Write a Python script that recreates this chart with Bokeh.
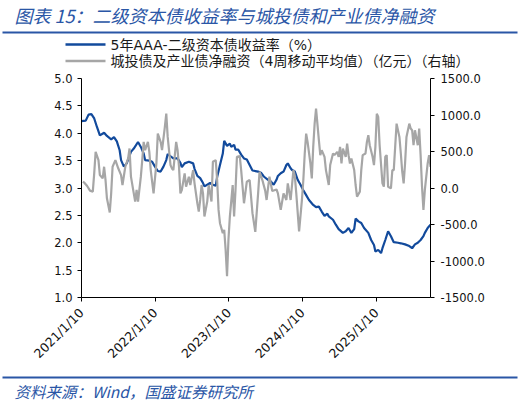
import math
import pandas as pd
from bokeh.plotting import figure
from bokeh.models import (Range1d, LinearAxis, FixedTicker, NumeralTickFormatter,
                          CustomJSTickFormatter, ColumnDataSource)
from bokeh.layouts import column
from bokeh.embed import file_html
from bokeh.resources import INLINE
from bokeh.core.properties import value

# ---------------- data ----------------
start_date = "2021-01-10"

# week number since start_date, and 5Y AAA- tier-2 capital bond yield (%)
yield_weeks = [0, 3, 5, 7, 9, 11, 13, 16, 18, 21, 23, 25, 27, 28, 30, 32, 35, 37, 40, 42,
               44, 45, 48, 50, 52, 54, 56, 58, 60, 61, 63, 65, 68, 70, 71, 73, 76, 79, 80, 82,
               84, 86, 87, 89, 91, 93, 95, 96, 98, 100, 101, 103, 105, 106, 108, 109, 111, 113, 115, 117,
               119, 121, 125, 127, 129, 132, 134, 136, 138, 139, 141, 143, 145, 146, 148, 149, 151, 153, 155, 157,
               159, 161, 164, 166, 168, 170, 172, 174, 175, 178, 180, 182, 185, 187, 189, 191, 193, 194, 196, 198,
               200, 203, 205, 207, 208, 210, 212, 213, 215, 217, 219, 221, 224, 226, 229, 232, 234, 236, 238, 240,
               242, 243, 245, 247]
yield_values = [4.22, 4.23, 4.34, 4.35, 4.27, 4.11, 3.96, 4.01, 3.95, 3.89, 3.93, 3.85, 3.69, 3.51, 3.39, 3.45, 3.66, 3.72, 3.84, 3.75,
                3.63, 3.51, 3.50, 3.48, 3.39, 3.31, 3.30, 3.39, 3.51, 3.62, 3.58, 3.54, 3.54, 3.46, 3.38, 3.45, 3.48, 3.45, 3.35, 3.22,
                3.18, 3.09, 3.03, 3.06, 3.09, 3.06, 3.04, 3.20, 3.42, 3.63, 3.86, 3.77, 3.81, 3.75, 3.79, 3.70, 3.70, 3.61, 3.54, 3.52,
                3.42, 3.32, 3.30, 3.28, 3.21, 3.15, 3.12, 3.06, 3.15, 3.22, 3.27, 3.30, 3.42, 3.45, 3.36, 3.33, 3.30, 3.15, 3.06, 2.96,
                2.87, 2.78, 2.69, 2.65, 2.66, 2.57, 2.49, 2.53, 2.48, 2.42, 2.33, 2.25, 2.18, 2.21, 2.27, 2.18, 2.25, 2.44, 2.39, 2.36,
                2.27, 2.18, 2.05, 1.96, 1.84, 1.87, 1.81, 1.90, 2.05, 2.21, 2.12, 2.01, 2.00, 1.99, 1.97, 1.94, 1.90, 1.97, 2.00, 2.05,
                2.12, 2.18, 2.27, 2.33]

# week number since start_date, and net financing of LGFV + industrial bonds (4W MA, 100m CNY)
flow_weeks = [1, 2, 4, 6, 8, 9, 10, 12, 13, 15, 16, 17, 18, 20, 21, 22, 24, 26, 28, 29,
              31, 33, 34, 35, 37, 38, 39, 40, 42, 43, 44, 45, 47, 48, 49, 51, 53, 54, 56, 57,
              59, 60, 61, 63, 64, 65, 67, 68, 69, 70, 71, 73, 74, 76, 77, 79, 80, 82, 83, 84,
              85, 86, 87, 89, 90, 92, 93, 95, 96, 97, 98, 100, 101, 102, 103, 104, 105, 107, 108, 109,
              110, 112, 113, 115, 117, 119, 121, 123, 125, 126, 128, 130, 131, 133, 135, 138, 139, 141, 143, 145,
              146, 148, 150, 151, 152, 154, 156, 157, 158, 159, 160, 162, 163, 164, 165, 166, 168, 169, 170, 172,
              173, 175, 176, 178, 179, 181, 182, 183, 184, 185, 187, 188, 189, 190, 191, 193, 194, 195, 197, 198,
              199, 201, 202, 203, 204, 206, 207, 208, 209, 210, 211, 213, 214, 215, 216, 217, 219, 220, 221, 222,
              223, 225, 226, 227, 228, 229, 230, 232, 233, 234, 235, 236, 238, 239, 240, 241, 242, 243, 245, 246,
              247]
flow_values = [86, 73, 27, -36, -50, 200, 495, 382, 177, 132, 291, 110, -141, -336, -73, 291, 382, 270, 177, 41,
               291, 405, 541, 155, -73, -186, -27, -186, 155, 382, 632, 518, 632, 495, 245, -73, 336, 745, 632, 518,
               836, 1018, 700, 314, 268, 245, 632, 518, 291, -73, -27, 200, 18, 155, 41, 245, 64, -209, -323, -164,
               41, -73, -391, -186, 41, -186, 359, 382, 110, -300, -482, -618, -573, -845, -1209, -709, -391, 41, -391, -27,
               427, 436, 245, -209, 86, 109, -345, -600, -73, 223, 109, -36, -164, 155, -40, -20, -73, -300, -73, -164,
               64, -164, 245, 160, -73, -595, -164, 109, 473, 745, 632, 336, 132, 564, 882, 1086, 655, 450, 518, 427,
               245, 41, 314, 473, 450, 495, 427, 564, 336, 541, 427, 609, 450, 336, 405, 245, 41, -118, -50, 245,
               450, 473, 632, 723, 586, 427, 314, 564, 1018, 973, 586, 64, 18, 427, 450, 18, -5, 245, 245, 564,
               882, 700, 473, 223, 64, 336, 700, 882, 814, 791, 586, 791, 586, 814, 450, 18, -300, -27, 336, 450,
               291]

x_tick_dates = ["2021-01-10", "2022-01-10", "2023-01-10", "2024-01-10", "2025-01-10"]
left_ticks = [1.0, 1.5, 2.0, 2.5, 3.0, 3.5, 4.0, 4.5, 5.0]
right_ticks = [-1500, -1000, -500, 0, 500, 1000, 1500]

title_text = "图表 15：二级资本债收益率与城投债和产业债净融资"
legend_labels = ["5年AAA-二级资本债收益率（%）",
                 "城投债及产业债净融资（4周移动平均值）（亿元）（右轴）"]
source_text = "资料来源：Wind，国盛证券研究所"

# ---------------- styles ----------------
BLUE = "#124A9C"
GRAY = "#A6A6A6"
HEAD_BLUE = "#2A56A6"
W = 519
CJK = "DejaVu Sans, Noto Sans CJK SC"

t0 = pd.Timestamp(start_date)
y_dates = [t0 + pd.Timedelta(days=7 * w) for w in yield_weeks]
f_dates = [t0 + pd.Timedelta(days=7 * w) for w in flow_weeks]
x_end = max(y_dates[-1], f_dates[-1])


def blank_fig(h):
    f = figure(width=W, height=h, x_range=Range1d(0, W), y_range=Range1d(h, 0),
               x_axis_location=None, y_axis_location=None, toolbar_location=None,
               min_border=0, output_backend="svg")
    f.outline_line_color = None
    f.frame_align = False
    for g in f.grid:
        g.visible = False
    return f

# ---------------- header ----------------
HH = 71
head = blank_fig(HH)
head.text(x=[14], y=[14], text=[title_text], text_font=value("Noto Sans CJK SC"),
          text_font_size="18px", text_font_style="italic", text_color=HEAD_BLUE,
          text_baseline="middle", text_align="left")
head.segment(x0=[2], y0=[32], x1=[517], y1=[32], line_color=HEAD_BLUE, line_width=2)
head.segment(x0=[65], y0=[44], x1=[105], y1=[44], line_color=BLUE, line_width=2.5)
head.segment(x0=[65], y0=[60.5], x1=[105], y1=[60.5], line_color=GRAY, line_width=2.5)
head.text(x=[110, 110], y=[44, 60.5], text=legend_labels, text_font=value(CJK),
          text_font_size="14px", text_color="#1a1a1a", text_baseline="middle", text_align="left")

# ---------------- main plot ----------------
p = figure(width=W, height=298, x_axis_type="datetime",
           x_range=Range1d(t0, x_end), y_range=Range1d(1.0, 5.0),
           toolbar_location=None, output_backend="svg",
           min_border_left=81, min_border_right=89, min_border_top=7, min_border_bottom=71)
p.frame_align = False
p.extra_y_ranges = {"right": Range1d(-1500, 1500)}
p.outline_line_color = None
p.xgrid.visible = False
p.ygrid.visible = False

src_y = ColumnDataSource(dict(x=y_dates, y=yield_values))
src_f = ColumnDataSource(dict(x=f_dates, y=flow_values))
p.line("x", "y", source=src_y, line_color=BLUE, line_width=2.2)
p.line("x", "y", source=src_f, line_color=GRAY, line_width=2.2, y_range_name="right")

raxis = LinearAxis(y_range_name="right")
p.add_layout(raxis, "right")

tick_ms = [pd.Timestamp(d).timestamp() * 1000 for d in x_tick_dates]
p.xaxis.ticker = FixedTicker(ticks=tick_ms)
p.xaxis.formatter = CustomJSTickFormatter(code="""
const d = new Date(tick);
return d.getUTCFullYear() + "/" + (d.getUTCMonth() + 1) + "/" + d.getUTCDate();
""")
p.xaxis.major_label_orientation = math.pi / 4
p.yaxis[0].ticker = FixedTicker(ticks=left_ticks)
p.yaxis[0].formatter = NumeralTickFormatter(format="0.0")
raxis.ticker = FixedTicker(ticks=right_ticks)
raxis.formatter = NumeralTickFormatter(format="0.0")

for ax in [p.xaxis[0], p.yaxis[0], raxis]:
    ax.axis_line_color = "black"
    ax.axis_line_width = 1
    ax.major_tick_line_color = "black"
    ax.minor_tick_line_color = None
    ax.major_tick_out = 4
    ax.major_tick_in = 0
    ax.major_label_text_font = "DejaVu Sans"
    ax.major_label_text_font_size = "11.5px"
    ax.major_label_text_color = "#111111"
p.yaxis[0].major_label_standoff = 5
raxis.major_label_standoff = 6
p.xaxis[0].major_label_text_font_size = "12.5px"
p.xaxis[0].major_label_standoff = 9

# ---------------- footer ----------------
FH = 33
foot = blank_fig(FH)
foot.segment(x0=[2], y0=[8], x1=[517], y1=[8], line_color=HEAD_BLUE, line_width=2)
foot.text(x=[14], y=[21], text=[source_text], text_font=value("Noto Sans CJK SC"),
          text_font_size="15.5px", text_font_style="italic", text_color=HEAD_BLUE,
          text_baseline="middle", text_align="left")

layout = column(head, p, foot, spacing=0)
open("out.html", "w").write(file_html(layout, INLINE))
